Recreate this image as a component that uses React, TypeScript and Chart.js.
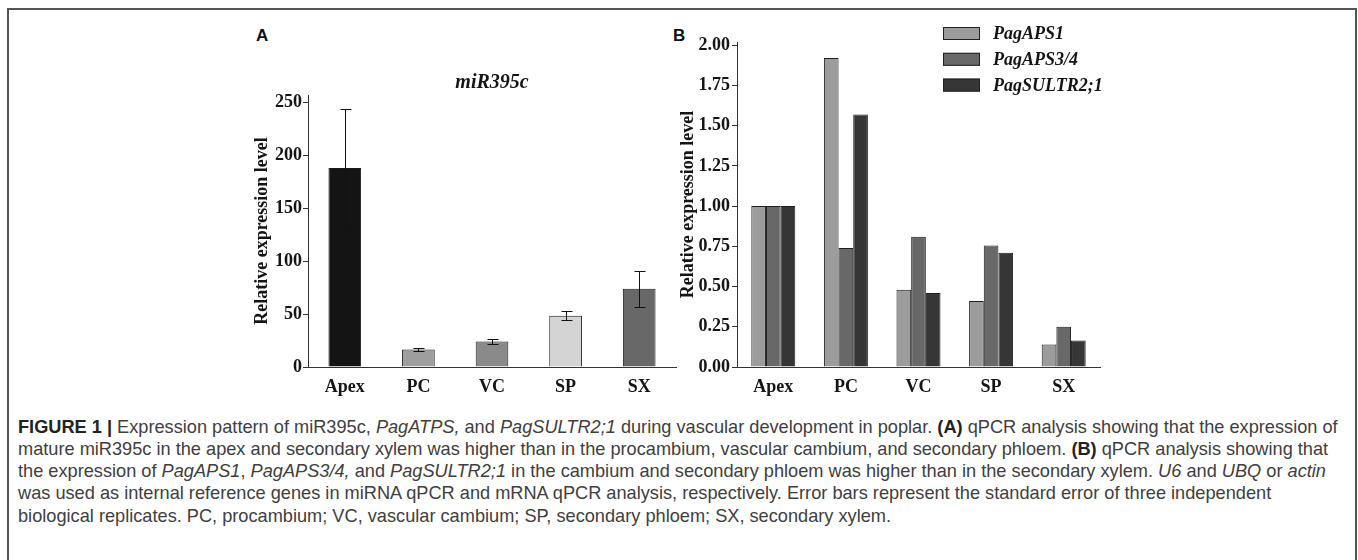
import React, { useEffect, useRef } from "react";
import { Chart, registerables } from "chart.js";
Chart.register(...registerables);

// ---------- data ----------
const categoriesA = ["Apex", "PC", "VC", "SP", "SX"];
const mir395cValues = [188, 16.5, 24, 48.5, 74];
const mir395cErrors = [56, 1.5, 2.5, 4.5, 17];
const colorsA = ["#141414", "#9e9e9e", "#8a8a8a", "#d4d4d4", "#686868"];
const ticksAMax = 257;
const ticksAStep = 50;

const categoriesB = ["Apex", "PC", "VC", "SP", "SX"];
const seriesNamesB = ["PagAPS1", "PagAPS3/4", "PagSULTR2;1"];
const pagAPS1 = [1.0, 1.92, 0.48, 0.41, 0.14];
const pagAPS34 = [1.0, 0.74, 0.81, 0.755, 0.25];
const pagSULTR21 = [1.0, 1.57, 0.46, 0.71, 0.165];
const colorsB = ["#9c9c9c", "#686868", "#363636"];
const ticksBMax = 2.02;
const ticksBStep = 0.25;

const SERIF = "'Liberation Serif', 'Times New Roman', serif";
const SANS = "'Liberation Sans', Arial, Helvetica, sans-serif";
const TEXT = "#151515";
const AXIS = "#333333";

const tickFont = { family: SERIF, size: 18, weight: "bold" as const };

const errorBarPlugin = {
  id: "errorBars",
  afterDatasetsDraw(chart: any) {
    const ctx = chart.ctx;
    const meta = chart.getDatasetMeta(0);
    const y = chart.scales.y;
    ctx.save();
    ctx.strokeStyle = "#111";
    ctx.lineWidth = 1;
    meta.data.forEach((bar: any, i: number) => {
      const v = mir395cValues[i];
      const e = mir395cErrors[i];
      const x = Math.round(bar.x) + 0.5;
      const yt = Math.round(y.getPixelForValue(v + e)) + 0.5;
      const yb = Math.round(y.getPixelForValue(v - e)) + 0.5;
      ctx.beginPath();
      ctx.moveTo(x, yt);
      ctx.lineTo(x, yb);
      ctx.moveTo(x - 5, yt);
      ctx.lineTo(x + 6, yt);
      ctx.moveTo(x - 5, yb);
      ctx.lineTo(x + 6, yb);
      ctx.stroke();
    });
    ctx.restore();
  },
};

const sideLegendPlugin = {
  id: "sideLegend",
  afterDraw(chart: any) {
    const ctx = chart.ctx;
    ctx.save();
    chart.data.datasets.forEach((ds: any, i: number) => {
      const cy = 13.5 + i * 25.8;
      ctx.fillStyle = ds.backgroundColor;
      ctx.fillRect(269, cy - 6.5, 37, 13);
      ctx.strokeStyle = "#222";
      ctx.lineWidth = 1;
      ctx.strokeRect(269.5, cy - 6, 36, 12);
      ctx.fillStyle = TEXT;
      ctx.font = `italic bold 18px ${SERIF}`;
      ctx.textBaseline = "middle";
      ctx.textAlign = "left";
      ctx.fillText(ds.label, 319, cy + 1);
    });
    ctx.restore();
  },
};

function ChartA() {
  const ref = useRef<HTMLCanvasElement>(null);
  useEffect(() => {
    const chart = new Chart(ref.current as HTMLCanvasElement, {
      type: "bar",
      data: {
        labels: categoriesA,
        datasets: [
          {
            label: "miR395c",
            data: mir395cValues,
            backgroundColor: colorsA,
            borderColor: "#1a1a1a",
            borderWidth: 1,
            barPercentage: 0.444,
            categoryPercentage: 1,
          },
        ],
      },
      options: {
        responsive: false,
        animation: false,
        layout: { padding: { left: 0, right: 20, top: 0, bottom: 0 } },
        plugins: {
          legend: { display: false },
          tooltip: { enabled: false },
          title: {
            display: true,
            text: "miR395c",
            fullSize: false,
            color: TEXT,
            font: { family: SERIF, size: 20, weight: "bold", style: "italic" },
            padding: { top: 11, bottom: 0 },
          },
        },
        scales: {
          x: {
            offset: true,
            grid: { display: false },
            border: { color: AXIS, width: 1 },
            ticks: { font: tickFont, color: TEXT, padding: 2 },
            afterFit: (s: any) => {
              s.height = 33;
            },
          },
          y: {
            min: 0,
            max: ticksAMax,
            ticks: {
              stepSize: ticksAStep,
              includeBounds: false,
              font: tickFont,
              color: TEXT,
              padding: 1,
            },
            grid: { drawOnChartArea: false, drawTicks: true, tickLength: 5, color: AXIS },
            border: { color: AXIS, width: 1 },
            title: {
              display: true,
              text: "Relative expression level",
              color: TEXT,
              font: tickFont,
              padding: { top: 3, bottom: 0 },
            },
            afterFit: (s: any) => {
              s.width = 59;
            },
          },
        },
      } as any,
      plugins: [errorBarPlugin],
    });
    return () => chart.destroy();
  }, []);
  return (
    <canvas
      ref={ref}
      width={447}
      height={340}
      style={{ position: "absolute", left: 249, top: 60, width: 447, height: 340 }}
    />
  );
}

function ChartB() {
  const ref = useRef<HTMLCanvasElement>(null);
  useEffect(() => {
    const seriesValues = [pagAPS1, pagAPS34, pagSULTR21];
    const chart = new Chart(ref.current as HTMLCanvasElement, {
      type: "bar",
      data: {
        labels: categoriesB,
        datasets: seriesNamesB.map((name, i) => ({
          label: name,
          data: seriesValues[i],
          backgroundColor: colorsB[i],
          borderColor: "#1e1e1e",
          borderWidth: 1,
          barPercentage: 1,
          categoryPercentage: 0.606,
        })),
      },
      options: {
        responsive: false,
        animation: false,
        layout: { padding: { left: 0, right: 20, top: 22, bottom: 0 } },
        plugins: {
          legend: { display: false },
          tooltip: { enabled: false },
          title: { display: false },
        },
        scales: {
          x: {
            offset: true,
            grid: { display: false },
            border: { color: AXIS, width: 1 },
            ticks: { font: tickFont, color: TEXT, padding: 2 },
            afterFit: (s: any) => {
              s.height = 33;
            },
          },
          y: {
            min: 0,
            max: ticksBMax,
            ticks: {
              stepSize: ticksBStep,
              includeBounds: false,
              font: tickFont,
              color: TEXT,
              padding: 2,
              callback: (v: any) => Number(v).toFixed(2),
            },
            grid: { drawOnChartArea: false, drawTicks: true, tickLength: 5, color: AXIS },
            border: { color: AXIS, width: 1 },
            title: {
              display: true,
              text: "Relative expression level",
              color: TEXT,
              font: tickFont,
              padding: { top: 4, bottom: 0 },
            },
            afterFit: (s: any) => {
              s.width = 63;
            },
          },
        },
      } as any,
      plugins: [sideLegendPlugin],
    });
    return () => chart.destroy();
  }, []);
  return (
    <canvas
      ref={ref}
      width={446}
      height={380}
      style={{ position: "absolute", left: 674, top: 20, width: 446, height: 380 }}
    />
  );
}

const captionStyle: React.CSSProperties = {
  position: "absolute",
  left: 18,
  fontFamily: SANS,
  fontSize: 18.2,
  color: "#404040",
  whiteSpace: "nowrap",
  lineHeight: "22px",
};

const boldC: React.CSSProperties = { color: "#222" };

export default function App() {
  return (
    <div
      style={{
        position: "absolute",
        left: 0,
        top: 0,
        width: 1358,
        height: 560,
        background: "#fff",
        overflow: "hidden",
      }}
    >
      <div
        style={{
          position: "absolute",
          left: 7,
          top: 8,
          width: 1346,
          height: 600,
          borderTop: "2px solid #555",
          borderLeft: "2px solid #555",
          borderRight: "2px solid #555",
        }}
      />
      <div style={{ position: "absolute", left: 256, top: 26, fontFamily: SANS, fontWeight: "bold", fontSize: 17, lineHeight: "20px", color: "#111" }}>A</div>
      <div style={{ position: "absolute", left: 673, top: 26, fontFamily: SANS, fontWeight: "bold", fontSize: 17, lineHeight: "20px", color: "#111" }}>B</div>
      <ChartA />
      <ChartB />
      <div style={{ ...captionStyle, top: 416 }}>
        <b style={boldC}>FIGURE 1 |</b> Expression pattern of miR395c, <i>PagATPS,</i> and <i>PagSULTR2;1</i> during vascular development in poplar. <b style={boldC}>(A)</b> qPCR analysis showing that the expression of
      </div>
      <div style={{ ...captionStyle, top: 438 }}>
        mature miR395c in the apex and secondary xylem was higher than in the procambium, vascular cambium, and secondary phloem. <b style={boldC}>(B)</b> qPCR analysis showing that
      </div>
      <div style={{ ...captionStyle, top: 460 }}>
        the expression of <i>PagAPS1</i>, <i>PagAPS3/4,</i> and <i>PagSULTR2;1</i> in the cambium and secondary phloem was higher than in the secondary xylem. <i>U6</i> and <i>UBQ</i> or <i>actin</i>
      </div>
      <div style={{ ...captionStyle, top: 482 }}>
        was used as internal reference genes in miRNA qPCR and mRNA qPCR analysis, respectively. Error bars represent the standard error of three independent
      </div>
      <div style={{ ...captionStyle, top: 505 }}>
        biological replicates. PC, procambium; VC, vascular cambium; SP, secondary phloem; SX, secondary xylem.
      </div>
    </div>
  );
}
